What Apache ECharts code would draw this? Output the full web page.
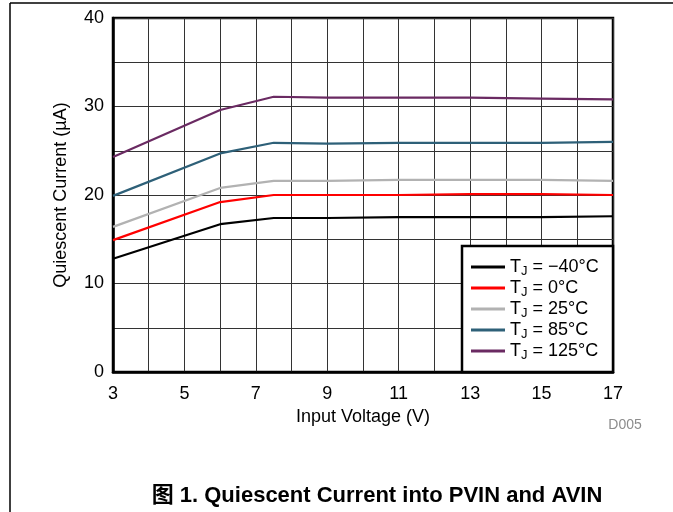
<!DOCTYPE html>
<html>
<head>
<meta charset="utf-8">
<script src="https://cdn.jsdelivr.net/npm/echarts@6/dist/echarts.min.js"></script>
<style>
html,body{margin:0;padding:0;background:#fff;}
#chart{width:673px;height:512px;}
</style>
</head>
<body>
<div id="chart"></div>
<script>
var volts = [3, 6, 7.5, 9, 11, 13, 15, 17];
var tjM40 = [12.8, 16.7, 17.4, 17.4, 17.5, 17.5, 17.5, 17.6];
var tj0 = [14.9, 19.2, 20.0, 20.0, 20.0, 20.1, 20.1, 20.0];
var tj25 = [16.4, 20.8, 21.6, 21.6, 21.7, 21.7, 21.7, 21.6];
var tj85 = [19.9, 24.7, 25.9, 25.8, 25.9, 25.9, 25.9, 26.0];
var tj125 = [24.3, 29.6, 31.1, 31.0, 31.0, 31.0, 30.9, 30.8];
var seriesNames = ['\u221240\u00B0C', '0\u00B0C', '25\u00B0C', '85\u00B0C', '125\u00B0C'];
var seriesColors = ['#000000', '#ff0000', '#b2b2b2', '#2e6078', '#6a2a62'];
var seriesValues = [tjM40, tj0, tj25, tj85, tj125];
var xLabels = [3, 5, 7, 9, 11, 13, 15, 17];
var yLabels = [0, 10, 20, 30, 40];

var FONT = '"Liberation Sans", Arial, sans-serif';

function pairs(vals) {
  return volts.map(function (v, i) { return [v, vals[i]]; });
}

var series = seriesNames.map(function (n, i) {
  return {
    name: n,
    type: 'line',
    data: pairs(seriesValues[i]),
    symbol: 'none',
    lineStyle: { color: seriesColors[i], width: 2.2 },
    itemStyle: { color: seriesColors[i] },
    z: 3
  };
});

var chart = echarts.init(document.getElementById('chart'), null, { renderer: 'canvas' });
chart.setOption({
  animation: false,
  backgroundColor: '#fff',
  grid: {
    left: 113, right: 60, top: 18, bottom: 140,
    show: true, borderColor: '#000', borderWidth: 2.5, backgroundColor: 'transparent'
  },
  xAxis: {
    type: 'value', min: 3, max: 17, interval: 1,
    name: 'Input Voltage (V)', nameLocation: 'middle', nameGap: 34,
    nameTextStyle: { fontFamily: FONT, fontSize: 18, color: '#000' },
    axisLine: { show: true, lineStyle: { color: '#000', width: 2.5 } },
    axisTick: { show: false },
    axisLabel: {
      fontFamily: FONT, fontSize: 18, color: '#000', margin: 13,
      formatter: function (v) { return xLabels.indexOf(v) >= 0 ? String(v) : ''; }
    },
    splitLine: { show: true, lineStyle: { color: '#333', width: 1 } }
  },
  yAxis: {
    type: 'value', min: 0, max: 40, interval: 5,
    name: 'Quiescent Current (\u00B5A)', nameLocation: 'middle', nameGap: 43,
    nameTextStyle: { fontFamily: FONT, fontSize: 18, color: '#000' },
    axisLine: { show: true, lineStyle: { color: '#000', width: 2.5 } },
    axisTick: { show: false },
    axisLabel: {
      fontFamily: FONT, fontSize: 18, color: '#000', margin: 9,
      formatter: function (v) { return yLabels.indexOf(v) >= 0 ? String(v) : ''; }
    },
    splitLine: { show: true, lineStyle: { color: '#333', width: 1 } }
  },
  legend: {
    orient: 'vertical',
    left: 462, top: 246,
    padding: [12, 8, 8, 9],
    itemGap: 1.5,
    icon: 'rect',
    itemWidth: 34, itemHeight: 3,
    z: 10,
    data: seriesNames,
    formatter: function (n) { return '{t|T}{s|J}{t| = ' + n + '}'; },
    textStyle: {
      fontFamily: FONT, fontSize: 18, color: '#000',
      rich: {
        t: { fontFamily: FONT, fontSize: 18, color: '#000', lineHeight: 21 },
        s: { fontFamily: FONT, fontSize: 13, color: '#000', lineHeight: 13, verticalAlign: 'bottom' }
      }
    }
  },
  graphic: [
    { type: 'rect', z: 5, shape: { x: 462, y: 246, width: 151, height: 126 },
      style: { fill: '#fff', stroke: '#000', lineWidth: 2.5 } },
    { type: 'line', z: 1, shape: { x1: 10, y1: 3, x2: 673, y2: 3 }, style: { stroke: '#000', lineWidth: 1.5 } },
    { type: 'line', z: 1, shape: { x1: 10, y1: 3, x2: 10, y2: 512 }, style: { stroke: '#000', lineWidth: 1.5 } },
    { type: 'text', z: 5, style: { text: 'D005', x: 625, y: 425, textAlign: 'center', textVerticalAlign: 'middle',
      font: '14px "Liberation Sans", Arial, sans-serif', fill: '#8c8c8c' } },
    { type: 'text', z: 5, style: { text: '\u56FE 1. Quiescent Current into PVIN and AVIN', x: 377, y: 496,
      textAlign: 'center', textVerticalAlign: 'middle',
      font: 'bold 22px "Liberation Sans", "Noto Sans CJK SC", Arial, sans-serif', fill: '#000' } }
  ],
  series: series
});
</script>
</body>
</html>
